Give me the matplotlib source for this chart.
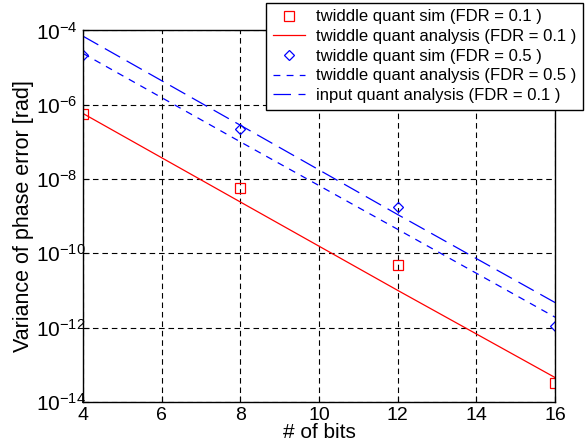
import matplotlib
matplotlib.use("Agg")
import matplotlib.pyplot as plt
from matplotlib.ticker import LogFormatterMathtext, NullLocator

plt.rcParams['font.family'] = ['Liberation Sans', 'DejaVu Sans']
plt.rcParams['mathtext.fontset'] = 'custom'
plt.rcParams['mathtext.rm'] = 'Liberation Sans'
plt.rcParams['mathtext.it'] = 'Liberation Sans'

# data
bits = [4, 8, 12, 16]
sim_fdr01 = [5.7e-7, 5.7e-9, 4.8e-11, 3.3e-14]
ana_fdr01 = [5.8e-7, 2.4e-9, 1.0e-11, 4.5e-14]
sim_fdr05 = [2.2e-5, 2.2e-7, 1.8e-9, 1.1e-12]
ana_fdr05 = [2.4e-5, 1.0e-7, 4.4e-10, 1.9e-12]
ana_input01 = [7.0e-5, 2.8e-7, 1.1e-9, 4.7e-12]

xticks = [4, 6, 8, 10, 12, 14, 16]
yticks = [1e-14, 1e-12, 1e-10, 1e-8, 1e-6, 1e-4]

fig = plt.figure(figsize=(5.85, 4.48), dpi=100)
ax = fig.add_axes([0.142, 0.103, 0.807, 0.829])

ax.semilogy(bits, sim_fdr01, 's', color='#ff0000', mfc='none', ms=7, mew=0.9,
            label='twiddle quant sim (FDR = 0.1 )')
ax.semilogy(bits, ana_fdr01, '-', color='#ff0000', lw=0.9,
            label='twiddle quant analysis (FDR = 0.1 )')
ax.semilogy(bits, sim_fdr05, 'D', color='#0000ff', mfc='none', ms=5.5, mew=0.9,
            label='twiddle quant sim (FDR = 0.5 )')
ax.semilogy(bits, ana_fdr05, color='#0000ff', lw=0.9, dashes=(5.5, 5),
            label='twiddle quant analysis (FDR = 0.5 )')
ax.semilogy(bits, ana_input01, color='#0000ff', lw=0.9, dashes=(14, 6),
            label='input quant analysis (FDR = 0.1 )')

ax.set_xlim(4, 16)
ax.set_ylim(1e-14, 1e-4)
ax.set_xticks(xticks)
ax.set_yticks(yticks)
ax.yaxis.set_major_formatter(LogFormatterMathtext(base=10.0))
ax.yaxis.set_minor_locator(NullLocator())
ax.tick_params(direction='in', length=4, width=0.8)
ax.tick_params(axis='x', labelsize=14, pad=4)
ax.tick_params(axis='y', labelsize=15, pad=34)
for lab in ax.get_yticklabels():
    lab.set_horizontalalignment('left')
ax.grid(True, color='black', linestyle=(0, (5, 3.5)), linewidth=0.8)
for s in ax.spines.values():
    s.set_linewidth(1.0)

ax.set_xlabel('# of bits', fontsize=15, labelpad=-1)
ax.set_ylabel('Variance of phase error [rad]', fontsize=15.5, labelpad=1)

leg = ax.legend(loc='upper right', bbox_to_anchor=(0.997, 0.994),
                bbox_transform=fig.transFigure, fontsize=12, fancybox=False,
                framealpha=1, edgecolor='black', handlelength=1.9,
                labelspacing=0.28, borderpad=0.4, handletextpad=0.7,
                borderaxespad=0)
leg.get_frame().set_linewidth(1.0)

fig.savefig('out.png', dpi=100)
